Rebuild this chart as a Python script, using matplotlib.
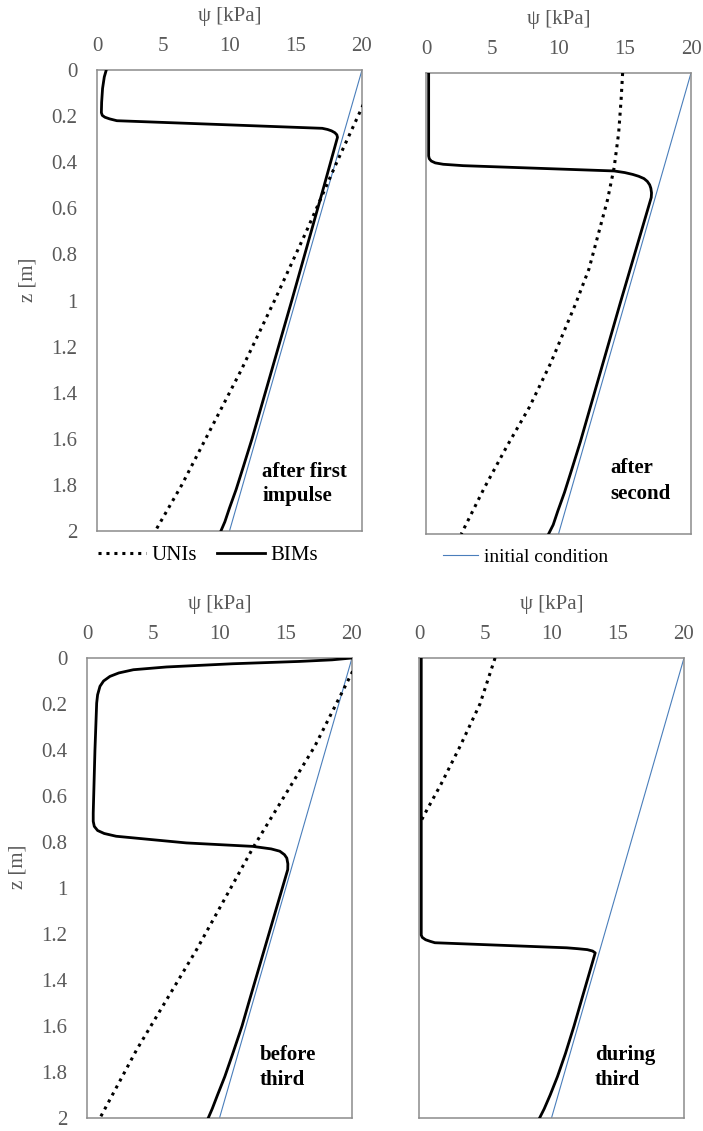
import matplotlib
matplotlib.use("Agg")
import matplotlib.pyplot as plt
from matplotlib.ticker import FuncFormatter

plt.rcParams["font.family"] = ["Liberation Serif", "DejaVu Serif"]
plt.rcParams["font.size"] = 15

# initial condition (same in all panels): psi [kPa] vs depth z [m]
z_init = [0.0, 2.0]
psi_init = [20.0, 10.0]

# after first impulse
z_bim_1 = [0.0, 0.03, 0.08, 0.14, 0.185, 0.197, 0.205, 0.212, 0.22, 0.253, 0.258,
           0.264, 0.272, 0.281, 0.292, 0.5, 1.0, 1.4, 1.6, 1.72, 1.82, 1.9, 1.96, 2.0]
psi_bim_1 = [0.7, 0.55, 0.42, 0.35, 0.33, 0.4, 0.6, 0.95, 1.5, 17.0, 17.4,
             17.7, 17.95, 18.1, 18.15, 17.15, 14.7, 12.7, 11.7, 11.05, 10.5, 10.0, 9.65, 9.35]
z_uni_1 = [0.15, 0.4, 0.7, 1.0, 1.3, 1.6, 1.8, 2.0]
psi_uni_1 = [20.1, 18.1, 15.8, 13.4, 10.9, 8.2, 6.4, 4.4]

# after second
z_bim_2 = [0.0, 0.36, 0.372, 0.382, 0.39, 0.396, 0.402, 0.425, 0.432, 0.44, 0.448,
           0.458, 0.47, 0.485, 0.5, 0.52, 0.54, 1.0, 1.4, 1.6, 1.72, 1.82, 1.9, 1.96, 2.0]
psi_bim_2 = [0.2, 0.2, 0.25, 0.4, 0.7, 1.3, 2.8, 14.2, 15.0, 15.6, 16.05,
             16.45, 16.7, 16.88, 16.97, 17.02, 17.0, 14.65, 12.65, 11.65, 11.0, 10.45, 9.95, 9.6, 9.25]
z_uni_2 = [0.0, 0.12, 0.26, 0.41, 0.55, 0.70, 0.85, 1.0, 1.26, 1.45, 1.62, 1.8, 2.0]
psi_uni_2 = [14.84, 14.72, 14.54, 14.2, 13.7, 13.0, 12.3, 11.3, 9.4, 7.8, 6.1, 4.4, 2.66]

# before third
z_bim_3 = [0.0, 0.008, 0.015, 0.025, 0.039, 0.051, 0.065, 0.08, 0.1, 0.123, 0.16, 0.196,
           0.4, 0.674, 0.71, 0.732, 0.75, 0.763, 0.775, 0.804, 0.819, 0.83, 0.84, 0.855,
           0.87, 0.895, 0.92, 1.5, 1.6, 1.72, 1.82, 1.9, 1.96, 2.0]
psi_bim_3 = [20.0, 18.5, 16.0, 11.0, 6.0, 3.5, 2.4, 1.73, 1.25, 0.98, 0.8, 0.73,
             0.6, 0.47, 0.47, 0.55, 0.8, 1.3, 2.2, 7.5, 12.5, 13.9, 14.55, 14.9,
             15.08, 15.16, 15.15, 12.2, 11.7, 11.0, 10.4, 9.85, 9.45, 9.15]
z_uni_3 = [0.058, 0.384, 0.819, 1.268, 1.703, 2.0]
psi_uni_3 = [20.05, 17.19, 12.59, 8.27, 3.75, 0.98]

# during third
z_bim_4 = [0.0, 1.205, 1.215, 1.225, 1.232, 1.238, 1.26, 1.264, 1.268, 1.274, 1.282,
           1.5, 1.6, 1.72, 1.82, 1.9, 1.96, 2.0]
psi_bim_4 = [0.17, 0.17, 0.25, 0.5, 0.85, 1.2, 11.15, 12.0, 12.7, 13.1, 13.3,
             12.2, 11.7, 11.05, 10.45, 9.9, 9.45, 9.1]
z_uni_4 = [0.0, 0.2, 0.384, 0.55, 0.66, 0.72]
psi_uni_4 = [5.74, 4.6, 3.1, 1.65, 0.6, 0.05]

stage_labels = [["after first", "impulse"], ["after", "second"],
                ["before", "third"], ["during", "third"]]
x_ticks = [0, 5, 10, 15, 20]
z_ticks = [0, 0.2, 0.4, 0.6, 0.8, 1.0, 1.2, 1.4, 1.6, 1.8, 2.0]

GRAY = "#595959"
BLUE = "#4a7ebb"

W, H = 703, 1131
fig = plt.figure(figsize=(W / 100, H / 100), dpi=100)

# axes boxes in pixels: left, top, right, bottom
boxes = [(97, 70, 362, 531), (426, 73, 691, 534), (87, 658, 352, 1118), (419, 658, 684, 1118)]
curves = [(z_bim_1, psi_bim_1, z_uni_1, psi_uni_1),
          (z_bim_2, psi_bim_2, z_uni_2, psi_uni_2),
          (z_bim_3, psi_bim_3, z_uni_3, psi_uni_3),
          (z_bim_4, psi_bim_4, z_uni_4, psi_uni_4)]
# text placement inside each panel (axes fraction): x, baseline of first and second line
text_pos = [(0.623, 0.118, 0.064), (0.695, 0.132, 0.077),
            (0.653, 0.127, 0.072), (0.664, 0.127, 0.072)]

axes = []
for i, (l, t, r, b) in enumerate(boxes):
    ax = fig.add_axes([l / W, 1 - b / H, (r - l) / W, (b - t) / H])
    zb, pb, zu, pu = curves[i]
    ax.plot(psi_init, z_init, color=BLUE, lw=0.8, zorder=2, label="initial condition")
    ax.plot(pu, zu, color="black", lw=2.2, ls=(0, (1, 1.6)), zorder=3, label="UNIs")
    ax.plot(pb, zb, color="black", lw=2.0, solid_joinstyle="round", zorder=4, label="BIMs")

    ax.set_xlim(0, 20)
    ax.set_ylim(2, 0)
    ax.set_xticks(x_ticks)
    ax.set_yticks(z_ticks)
    ax.yaxis.set_major_formatter(FuncFormatter(lambda v, p: f"{v:g}"))
    ax.xaxis.tick_top()
    ax.xaxis.set_label_position("top")
    ax.tick_params(axis="x", length=0, pad=10, labelcolor=GRAY)
    ax.tick_params(axis="y", length=0, pad=14, labelcolor=GRAY)
    ax.set_xlabel("ψ [kPa]", color=GRAY, labelpad=11.5)
    if i % 2 == 0:
        ax.set_ylabel("z [m]", color=GRAY)
        ax.yaxis.set_label_coords(-0.226, 0.545)
    else:
        ax.tick_params(axis="y", labelleft=False)
    for s in ax.spines.values():
        s.set_color("#8c8c8c")
        s.set_linewidth(1.1)

    tx, y1, y2 = text_pos[i]
    ax.text(tx, y1, stage_labels[i][0], transform=ax.transAxes, fontweight="bold", va="baseline")
    ax.text(tx, y2, stage_labels[i][1], transform=ax.transAxes, fontweight="bold", va="baseline")
    axes.append(ax)

# legends below the top row
h0, l0 = axes[0].get_legend_handles_labels()
axes[0].legend(h0[1:], l0[1:], loc="center left", bbox_to_anchor=(98 / W, 1 - 555 / H),
               bbox_transform=fig.transFigure, ncol=2, frameon=False, borderpad=0,
               borderaxespad=0, handlelength=2.3, handletextpad=0.25, columnspacing=1.0,
               fontsize=15)
axes[1].legend(h0[:1], l0[:1], loc="center left", bbox_to_anchor=(443 / W, 1 - 557 / H),
               bbox_transform=fig.transFigure, frameon=False, borderpad=0,
               borderaxespad=0, handlelength=1.8, handletextpad=0.3, fontsize=14)

fig.savefig("out.png", dpi=100)
